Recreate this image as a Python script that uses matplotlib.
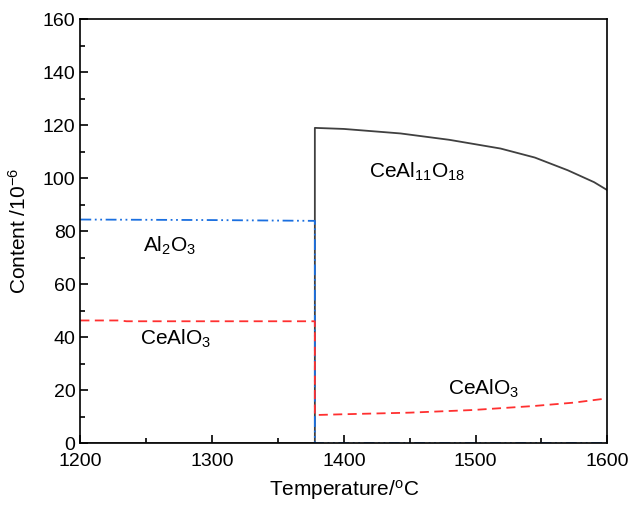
import matplotlib
matplotlib.use("Agg")
import matplotlib.pyplot as plt
from matplotlib.ticker import MultipleLocator

plt.rcParams['font.family'] = ['Liberation Sans', 'DejaVu Sans']
plt.rcParams['mathtext.fontset'] = 'custom'
plt.rcParams['mathtext.rm'] = 'Liberation Sans'

# Phase transition temperature
T_TR = 1378

# CeAl11O18 (zero below transition)
t_ceal = [1200, T_TR, T_TR, 1400, 1443, 1480, 1519, 1545, 1570, 1590, 1600]
c_ceal = [0, 0, 119.0, 118.6, 116.9, 114.5, 111.2, 107.8, 103.0, 98.5, 95.5]

# Al2O3
t_al = [1200, 1300, T_TR, T_TR, 1600]
c_al = [84.4, 84.2, 83.9, 0, 0]

# CeAlO3
t_cea = [1200, 1230, 1235, T_TR, T_TR, 1400, 1450, 1498, 1544, 1575, 1600]
c_cea = [46.3, 46.3, 46.0, 46.0, 10.6, 10.9, 11.5, 12.5, 14.0, 15.3, 16.9]

fig, ax = plt.subplots(figsize=(6.28, 5.07), dpi=100)
fig.subplots_adjust(left=0.128, right=0.967, top=0.962, bottom=0.126)

ax.plot(t_ceal, c_ceal, color='#404040', lw=1.3)
ax.plot(t_al, c_al, color='#1a6fe0', lw=1.3, ls=(0, (6, 2, 1, 2, 1, 2)))
ax.plot(t_cea, c_cea, color='#ff3030', lw=1.3, ls=(0, (5, 3)))

ax.set_xlim(1200, 1600)
ax.set_ylim(0, 160)
ax.xaxis.set_major_locator(MultipleLocator(100))
ax.xaxis.set_minor_locator(MultipleLocator(50))
ax.yaxis.set_major_locator(MultipleLocator(20))
ax.yaxis.set_minor_locator(MultipleLocator(10))
ax.tick_params(which='both', direction='in', top=False, right=False, labelsize=14, width=1.2)
ax.tick_params(which='major', length=6)
ax.tick_params(which='minor', length=3.5)
ax.tick_params(axis='x', pad=7)
for s in ax.spines.values():
    s.set_linewidth(1.2)

ax.set_xlabel('Temperature/$\\mathregular{^oC}$', fontsize=15, labelpad=6)
ax.set_ylabel('Content /10$\\mathregular{^{-6}}$', fontsize=15, labelpad=9)

ax.text(1268, 74.5, 'Al$_2$O$_3$', fontsize=15, ha='center', va='center')
ax.text(1272, 39.5, 'CeAlO$_3$', fontsize=15, ha='center', va='center')
ax.text(1456, 102.5, 'CeAl$_{11}$O$_{18}$', fontsize=15, ha='center', va='center')
ax.text(1506, 20.5, 'CeAlO$_3$', fontsize=15, ha='center', va='center')

fig.savefig('out.png', dpi=100)
